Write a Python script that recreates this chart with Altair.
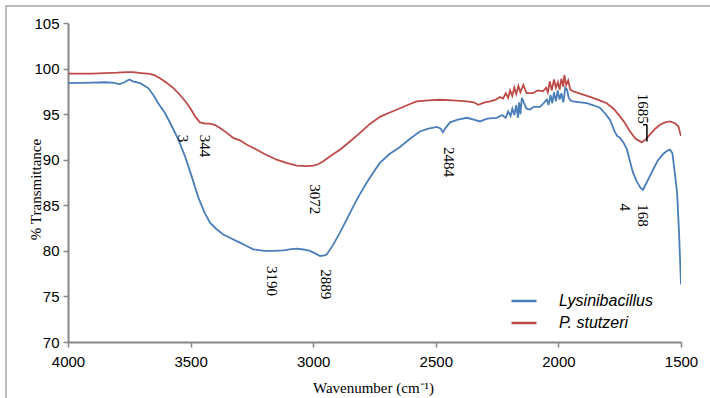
import altair as alt
import pandas as pd

# ---- data ----
series_names = ["Lysinibacillus", "P. stutzeri"]
series_colors = ["#4A7EBB", "#BE4B48"]

lys_wn = [4000, 3950, 3900, 3850, 3820, 3790, 3770, 3750, 3735, 3706, 3690, 3673, 3652, 3632,
          3604, 3577, 3550, 3523, 3496, 3469, 3445, 3421, 3395, 3367, 3330, 3299, 3270, 3244,
          3200, 3163, 3120, 3090, 3067, 3040, 3013, 2990, 2972, 2955, 2945, 2920, 2891, 2862,
          2836, 2810, 2782, 2755, 2728, 2690, 2646, 2605, 2565, 2530, 2495, 2480, 2471, 2460,
          2442, 2410, 2373, 2345, 2320, 2290, 2251, 2230, 2215, 2205, 2195, 2188, 2180, 2172,
          2165, 2160, 2155, 2149, 2140, 2130, 2116, 2100, 2075, 2060, 2047, 2040, 2032, 2025,
          2018, 2010, 2003, 1995, 1988, 1980, 1972, 1965, 1958, 1950, 1941, 1910, 1884, 1860,
          1831, 1810, 1790, 1769, 1760, 1749, 1735, 1720, 1708, 1696, 1680, 1665, 1655, 1640,
          1627, 1614, 1595, 1574, 1555, 1545, 1535, 1525, 1516, 1508, 1500]
lys_t = [98.4, 98.42, 98.45, 98.5, 98.45, 98.3, 98.5, 98.8, 98.6, 98.4, 98.15, 97.86, 97.1, 96.2,
         95.1, 93.7, 92.2, 90.4, 88.2, 85.9, 84.3, 83.1, 82.4, 81.8, 81.3, 80.9, 80.5, 80.17,
         80.0, 79.99, 80.05, 80.2, 80.25, 80.15, 80.0, 79.7, 79.44, 79.5, 79.6, 80.6, 82.0, 83.5,
         84.9, 86.2, 87.47, 88.6, 89.65, 90.6, 91.4, 92.3, 93.1, 93.4, 93.6, 93.4, 93.0, 93.5,
         94.1, 94.4, 94.6, 94.4, 94.2, 94.5, 94.6, 94.9, 94.6, 95.3, 94.8, 95.6, 94.9, 96.0,
         94.6, 96.3, 95.0, 96.8, 96.2, 95.6, 95.5, 95.8, 95.8, 96.2, 96.6, 96.0, 97.1, 96.2,
         97.4, 96.4, 97.6, 96.6, 97.3, 96.3, 97.9, 97.7, 96.8, 96.5, 96.4, 96.3, 96.2, 96.0,
         95.7, 95.1, 94.4, 93.0, 92.6, 92.4, 91.9, 91.1, 89.8, 88.6, 87.6, 86.9, 86.7, 87.5,
         88.2, 88.9, 89.9, 90.6, 91.0, 91.1, 90.7, 88.5, 86.4, 82.0, 76.3]

stu_wn = [4000, 3950, 3900, 3850, 3800, 3760, 3735, 3700, 3666, 3645, 3625, 3598, 3570, 3543,
          3516, 3498, 3482, 3462, 3440, 3421, 3400, 3380, 3355, 3326, 3299, 3270, 3244, 3200,
          3149, 3110, 3067, 3030, 3000, 2980, 2959, 2925, 2891, 2850, 2809, 2770, 2728, 2695,
          2660, 2620, 2578, 2530, 2483, 2430, 2374, 2345, 2327, 2300, 2279, 2255, 2238, 2225,
          2215, 2205, 2197, 2188, 2180, 2172, 2163, 2155, 2143, 2130, 2104, 2085, 2063, 2050,
          2043, 2035, 2027, 2018, 2010, 2002, 1995, 1988, 1980, 1976, 1968, 1960, 1952, 1939,
          1905, 1871, 1840, 1803, 1775, 1749, 1728, 1708, 1685, 1660, 1645, 1627, 1605, 1586,
          1565, 1545, 1525, 1511, 1500]
stu_t = [99.45, 99.45, 99.45, 99.5, 99.55, 99.62, 99.6, 99.5, 99.42, 99.25, 98.95, 98.45, 97.86, 97.1,
         96.22, 95.5, 94.75, 94.1, 93.95, 93.95, 93.8, 93.48, 93.0, 92.39, 92.13, 91.65, 91.29, 90.65,
         90.0, 89.65, 89.36, 89.3, 89.36, 89.5, 89.83, 90.5, 91.1, 92.0, 92.94, 93.9, 94.7, 95.1,
         95.48, 95.95, 96.4, 96.5, 96.58, 96.5, 96.4, 96.3, 96.03, 96.3, 96.4, 96.6, 96.87, 96.7,
         97.3, 96.8, 97.6, 97.0, 97.9, 97.2, 98.1, 97.4, 98.2, 97.3, 97.3, 97.6, 97.5, 97.9,
         97.4, 98.6, 97.6, 98.8, 97.9, 98.5, 97.7, 98.9, 98.0, 99.3, 98.2, 98.7, 97.7, 97.5,
         97.2, 96.9, 96.6, 96.2, 95.6, 94.75, 94.0, 93.1, 92.3, 91.9, 92.2, 92.75, 93.4, 93.84,
         94.1, 94.2, 94.0, 93.66, 92.6]

x_ticks = [4000, 3500, 3000, 2500, 2000, 1500]
y_ticks = [70, 75, 80, 85, 90, 95, 100, 105]

# peak labels (rotated text)
ann_text = ["344", "3", "3072", "3190", "2889", "2484", "1685", "168", "4"]
ann_wn = [3441, 3531, 2993, 3170, 2946, 2446, 1655, 1657, 1729]
ann_t = [92.75, 92.75, 87.3, 78.35, 77.98, 91.4, 97.25, 85.1, 85.2]

# leader line for the 1685 label
lead_wn = [1655, 1639]
lead_wn2 = [1639, 1639]
lead_t = [93.84, 93.84]
lead_t2 = [93.84, 92.0]

# ---- build tables ----
df = pd.concat([
    pd.DataFrame({"wn": lys_wn, "t": lys_t, "series": series_names[0]}),
    pd.DataFrame({"wn": stu_wn, "t": stu_t, "series": series_names[1]}),
], ignore_index=True)
ann_df = pd.DataFrame({"wn": ann_wn, "t": ann_t, "label": ann_text})
lead_df = pd.DataFrame({"wn": lead_wn, "wn2": lead_wn2, "t": lead_t, "t2": lead_t2})

xscale = alt.Scale(domain=[1500, 4000], reverse=True, nice=False, zero=False)
yscale = alt.Scale(domain=[70, 105], nice=False, zero=False)

axis_common = dict(
    grid=False, domainColor="#868686", domainWidth=2, tickColor="#868686", tickWidth=1.5,
    tickSize=5, labelFont="Liberation Sans", labelFontSize=15, labelColor="#000000",
    titleFont="Liberation Serif", titleFontSize=15, titleFontWeight="normal",
    titleColor="#000000", labelFlush=False,
)

x_axis = alt.Axis(values=x_ticks, format="d", title="Wavenumber (cm⁻¹)", labelPadding=7,
                  titleX=305, titleY=45, titleBaseline="middle", titleAlign="center",
                  **axis_common)
y_axis = alt.Axis(values=y_ticks, format="d", title="% Transmittance", labelPadding=4,
                  titleX=-33, titleY=166, titleAngle=-90, titleBaseline="middle",
                  titleAlign="center", **axis_common)


def xenc():
    return alt.X("wn:Q", scale=xscale, axis=x_axis)


def yenc():
    return alt.Y("t:Q", scale=yscale, axis=y_axis)


lines = alt.Chart(df).mark_line(strokeWidth=1.8, clip=True).encode(
    x=xenc(),
    y=yenc(),
    color=alt.Color("series:N",
                    scale=alt.Scale(domain=series_names, range=series_colors),
                    legend=alt.Legend(title=None, orient="none", legendX=442, legendY=264,
                                      symbolType="stroke", symbolSize=625,
                                      symbolStrokeWidth=2.5, labelOffset=21,
                                      labelFont="Liberation Sans", labelFontStyle="italic",
                                      labelFontSize=16, labelColor="#000000",
                                      labelBaseline="middle", padding=0, rowPadding=-4)),
    order=alt.Order("wn:Q", sort="descending"),
)

texts = alt.Chart(ann_df).mark_text(
    angle=90, align="left", baseline="middle", font="Liberation Serif", fontSize=15,
    color="#000000"
).encode(
    x=xenc(),
    y=yenc(),
    text="label:N",
)

leaders = alt.Chart(lead_df).mark_rule(color="#000000", strokeWidth=1.5).encode(
    x=xenc(),
    x2="wn2:Q",
    y=yenc(),
    y2="t2:Q",
)

frame = alt.Chart(pd.DataFrame({"k": [0]})).mark_rect(
    fill=None, stroke="#A6A6A6", strokeWidth=1.5
).encode(
    x=alt.value(-62), x2=alt.value(660), y=alt.value(-17), y2=alt.value(400)
)

chart = alt.layer(lines, leaders, texts, frame).properties(
    width=613, height=319,
    padding={"left": 68, "top": 23, "right": 29, "bottom": 56},
    autosize=alt.AutoSizeParams(type="none"),
    background="white",
).configure_view(stroke=None)

chart.save("out.html", embed_options={"renderer": "svg", "actions": False})
